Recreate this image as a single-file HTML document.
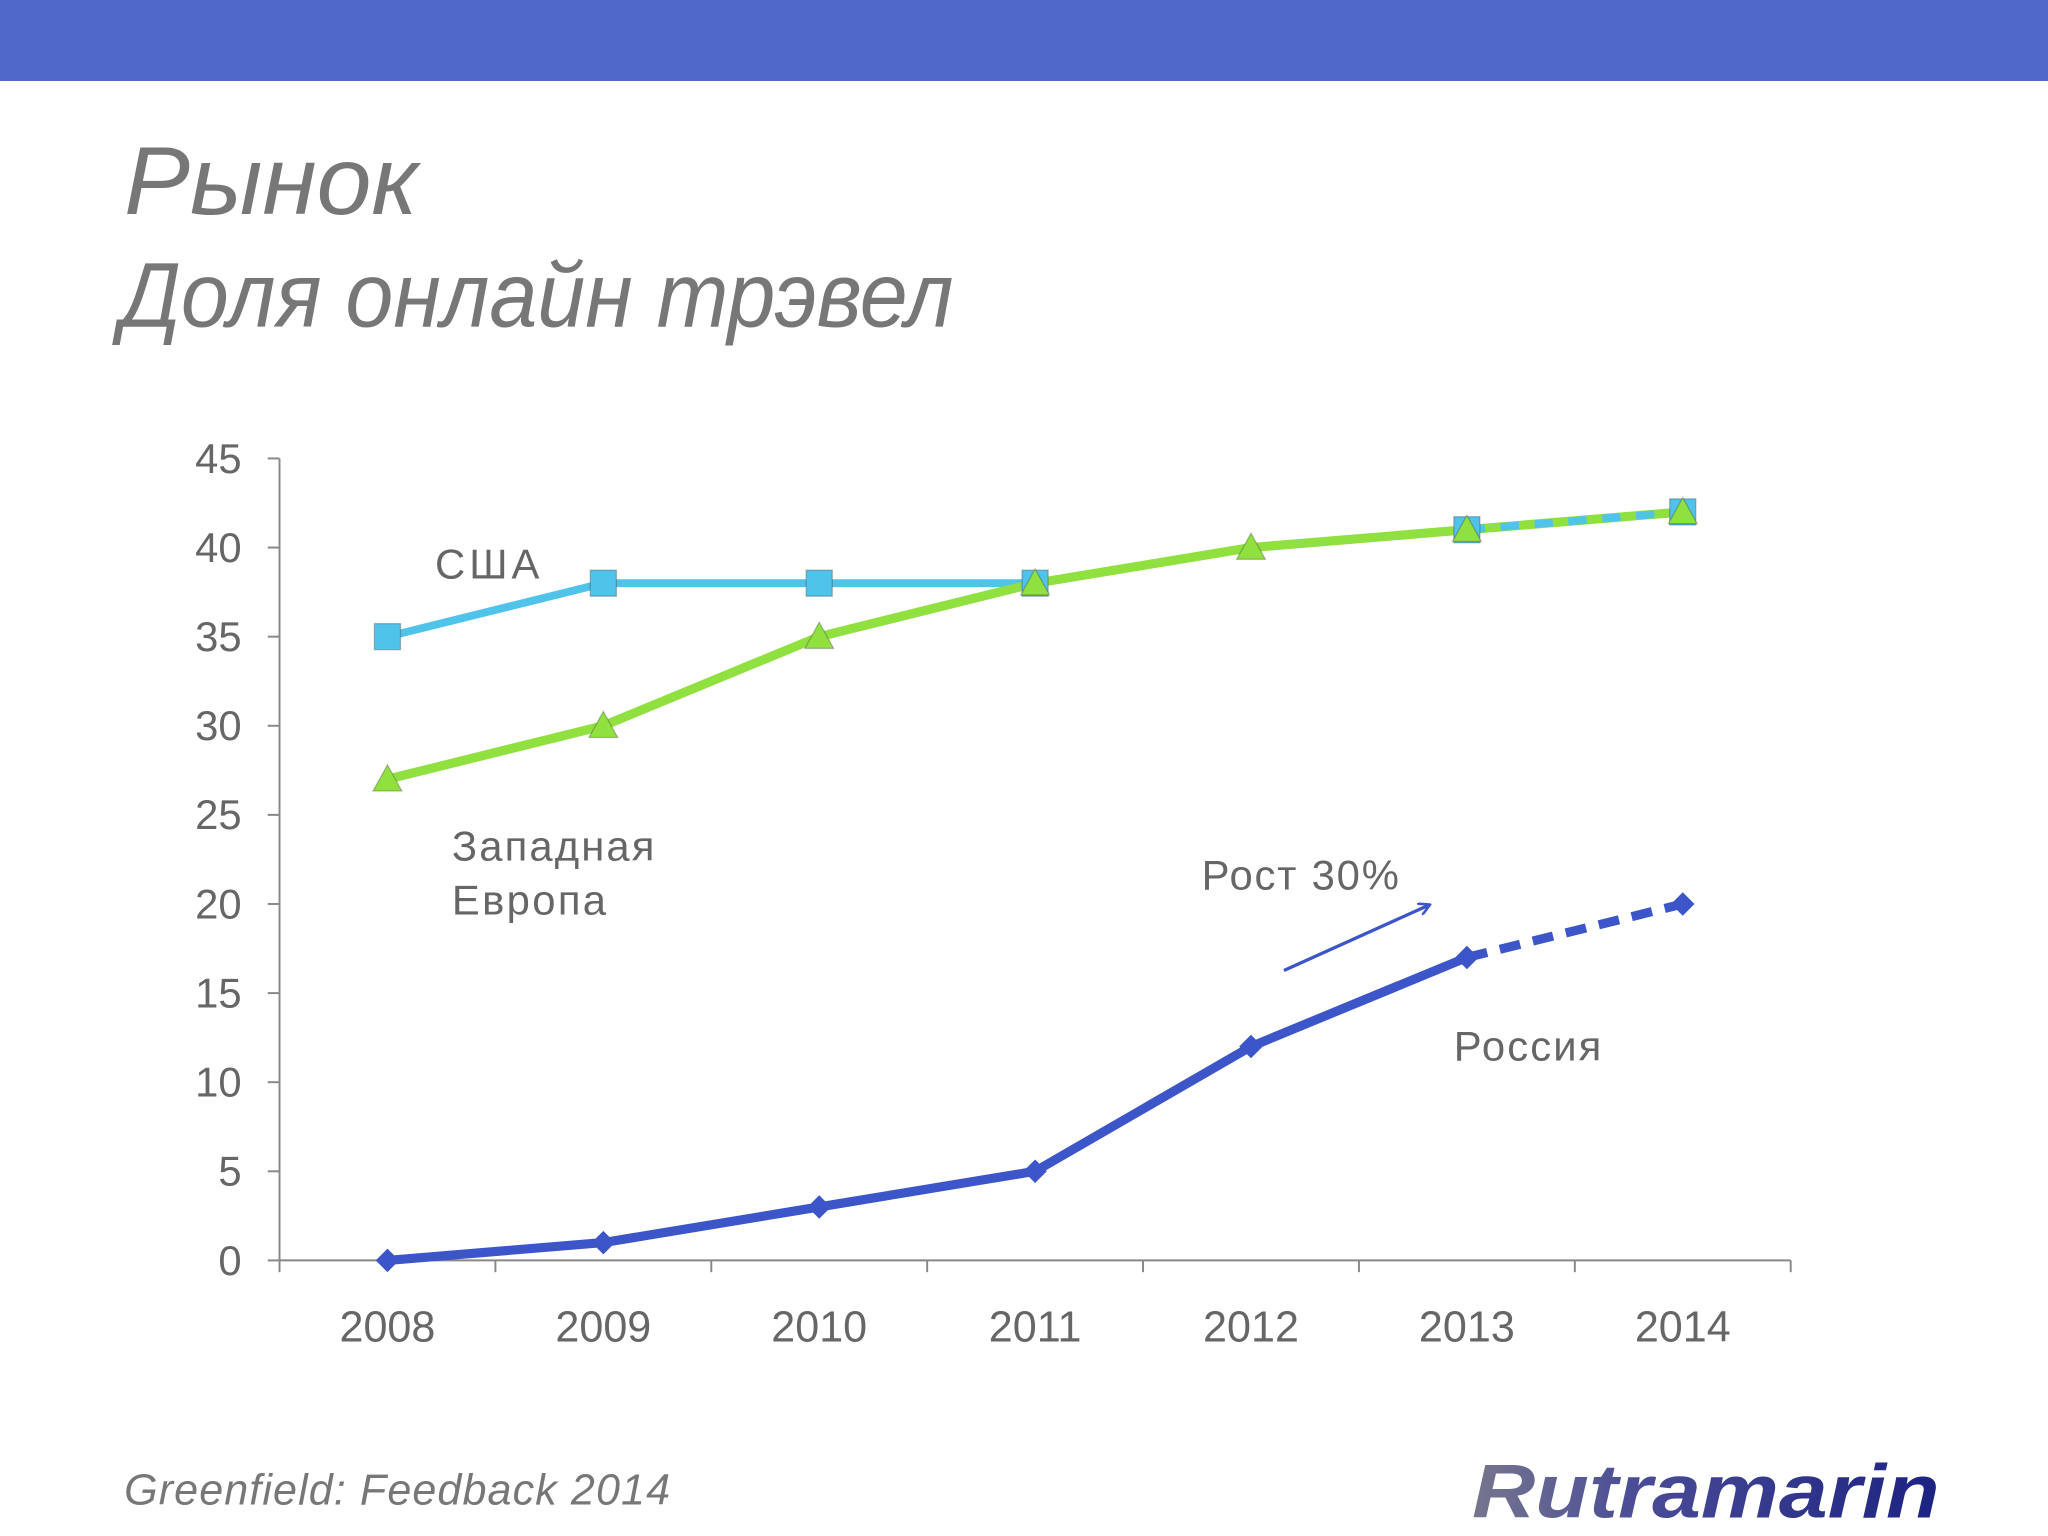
<!DOCTYPE html>
<html><head><meta charset="utf-8"><style>
html,body{margin:0;padding:0;background:#fff;}
svg{display:block;}
text{font-family:"Liberation Sans","Noto Sans CJK SC",sans-serif;}
</style></head><body>
<svg id="chart" width="2048" height="1536" viewBox="0 0 1568 1176" xmlns="http://www.w3.org/2000/svg">
<defs>
<linearGradient id="lg" x1="0" x2="1" y1="0" y2="0"><stop offset="0" stop-color="#76768e"/><stop offset="0.35" stop-color="#4a4c96"/><stop offset="1" stop-color="#1c2282"/></linearGradient>
<marker id="ah" markerWidth="10" markerHeight="10" refX="8" refY="5" orient="auto" markerUnits="userSpaceOnUse"><path d="M0,0 L9,5 L0,10" fill="none" stroke="#3c55c8" stroke-width="2"/></marker>
</defs>
<rect x="0" y="0" width="1568" height="62" fill="#5068c8"/>
<text x="95" y="164" font-size="74" font-style="italic" fill="#777" textLength="225" lengthAdjust="spacingAndGlyphs">Рынок</text>
<text x="92" y="250" font-size="70" font-style="italic" fill="#777" textLength="638" lengthAdjust="spacingAndGlyphs">Доля онлайн трэвел</text>
<g id="axes"></g>
<g id="series"></g>
<text x="333" y="443" font-size="32" fill="#666" textLength="80">США</text>
<text x="346" y="659" font-size="32" fill="#666" textLength="155">Западная</text>
<text x="346" y="700" font-size="32" fill="#666" textLength="118">Европа</text>
<text x="920" y="681" font-size="32" fill="#666" textLength="151">Рост 30%</text>
<line x1="983" y1="743" x2="1094" y2="693" stroke="#3c55c8" stroke-width="2.5" marker-end="url(#ah)"/>
<text x="1113" y="812" font-size="32" fill="#666" textLength="113">Россия</text>
<text x="95" y="1152" font-size="33" font-style="italic" fill="#777" textLength="418">Greenfield: Feedback 2014</text>
<text x="1127" y="1162" font-size="58" font-weight="bold" font-style="italic" fill="url(#lg)" textLength="358" lengthAdjust="spacingAndGlyphs">Rutramarin</text>
</svg>
<script>
const years=['2008','2009','2010','2011','2012','2013','2014'];
const yTicks=[0,5,10,15,20,25,30,35,40,45];
const usa=[35,38,38,38,null,41,42];
const europe=[27,30,35,38,40,41,42];
const russia=[0,1,3,5,12,17,20];
const NS='http://www.w3.org/2000/svg';
const X0=214,X1=1371,Y0=965,Y45=351;
const bw=(X1-X0)/years.length;
const xs=i=>X0+bw*(i+0.5);
const ys=v=>Y0-(v/45)*(Y0-Y45);
function mk(tag,attrs,parent){const e=document.createElementNS(NS,tag);for(const k in attrs)e.setAttribute(k,attrs[k]);parent.appendChild(e);return e;}
const ax=document.getElementById('axes');
let l=mk('line',{x1:X0,y1:Y45,x2:X0,y2:Y0,stroke:'#888','stroke-width':1.5},ax);


l=mk('line',{x1:X0,y1:Y0,x2:X1,y2:Y0,stroke:'#888','stroke-width':1.5},ax);


yTicks.forEach(v=>{
  mk('line',{x1:X0-9,y1:ys(v),x2:X0,y2:ys(v),stroke:'#888','stroke-width':1.5},ax);
  const t=mk('text',{x:185,y:ys(v)+11,'font-size':32,fill:'#666','text-anchor':'end'},ax);
  t.textContent=v;
  
  
});
for(let i=0;i<=years.length;i++){mk('line',{x1:X0+bw*i,y1:Y0,x2:X0+bw*i,y2:Y0+9,stroke:'#888','stroke-width':1.5},ax);}
years.forEach((y,i)=>{
  const t=mk('text',{x:xs(i),y:1027,'font-size':33,fill:'#666','text-anchor':'middle'},ax);
  t.textContent=y;
  
  
});
const sg=document.getElementById('series');
function seg(vals,a,b,color,dash,name,w){
  const pts=[];for(let i=a;i<=b;i++)if(vals[i]!=null)pts.push(xs(i)+','+ys(vals[i]));
  const p=mk('polyline',{points:pts.join(' '),fill:'none',stroke:color,'stroke-width':w||6,'stroke-linejoin':'round'},sg);
  if(dash)p.setAttribute('stroke-dasharray',dash);
  
  
}
function marker(type,i,v,color,name){
  const x=xs(i),y=ys(v);let m;
  if(type==='sq')m=mk('rect',{x:x-10,y:y-10,width:20,height:20,fill:color,stroke:'#333','stroke-opacity':0.3},sg);
  else if(type==='tri')m=mk('polygon',{points:`${x},${y-11} ${x+11},${y+9} ${x-11},${y+9}`,fill:color,stroke:'#333','stroke-opacity':0.3},sg);
  else m=mk('polygon',{points:`${x},${y-9} ${x+9},${y} ${x},${y+9} ${x-9},${y}`,fill:color},sg);
  
  
}
seg(usa,0,3,'#4fc3ea',null,'usa-line',6);
seg(europe,0,6,'#90e040',null,'europe-line',7);
seg(usa,5,6,'#4fc3ea','14 12','usa-line-forecast',6);
usa.forEach((v,i)=>{if(v!=null)marker('sq',i,v,'#4fc3ea','usa-point');});
europe.forEach((v,i)=>marker('tri',i,v,'#90e040','europe-point'));
seg(russia,0,5,'#3c55c8',null,'russia-line',7);
seg(russia,5,6,'#3c55c8','16 10','russia-line-forecast',7);
russia.forEach((v,i)=>marker('dia',i,v,'#3c55c8','russia-point'));
</script>
</body></html>
